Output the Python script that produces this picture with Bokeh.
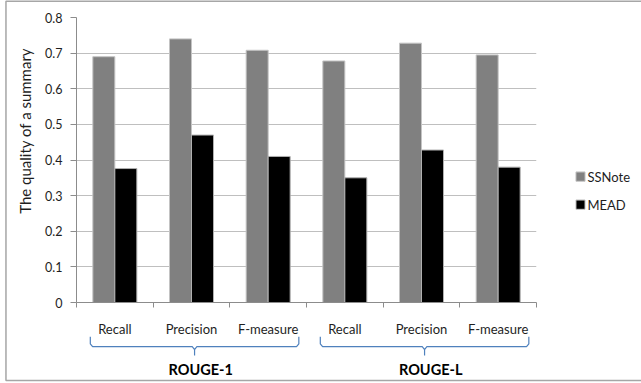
import numpy as np
from bokeh.plotting import figure
from bokeh.models import ColumnDataSource, FixedTicker
from bokeh.core.properties import value
from bokeh.embed import file_html
from bokeh.resources import INLINE

# ---- data ----
metrics = ["Recall", "Precision", "F-measure", "Recall", "Precision", "F-measure"]
groups = ["ROUGE-1", "ROUGE-L"]
series = ["SSNote", "MEAD"]
ssnote = [0.69, 0.74, 0.708, 0.678, 0.728, 0.695]
mead = [0.376, 0.47, 0.41, 0.35, 0.428, 0.38]
y_ticks = [0, 0.1, 0.2, 0.3, 0.4, 0.5, 0.6, 0.7, 0.8]

FONT = "Lato"
TEXT = "#1e1e1e"
BAR_W = 0.287
COLORS = ["#808080", "#000000"]

centers = np.arange(len(metrics)) + 0.5
src = ColumnDataSource(dict(
    x_ss=centers - BAR_W / 2,
    x_md=centers + BAR_W / 2,
    ssnote=ssnote,
    mead=mead,
))

p = figure(width=641, height=383, output_backend="svg", toolbar_location=None,
           x_range=(0, len(metrics)), y_range=(0, 0.8),
           min_border_left=76, min_border_right=105,
           min_border_top=17, min_border_bottom=81)
p.outline_line_color = None

p.vbar(x="x_ss", top="ssnote", width=BAR_W, source=src,
       fill_color=COLORS[0], line_color="#c4c4c4", line_width=1)
p.vbar(x="x_md", top="mead", width=BAR_W, source=src,
       fill_color=COLORS[1], line_color="#b0b0b0", line_width=1)

# y axis
p.yaxis.ticker = FixedTicker(ticks=y_ticks)
p.yaxis.major_label_overrides = {t: ("0" if t == 0 else f"{t:.1f}") for t in y_ticks}
p.yaxis.axis_line_color = "#8c8c8c"
p.yaxis.major_tick_line_color = "#8c8c8c"
p.yaxis.major_tick_out = 6
p.yaxis.major_tick_in = 0
p.yaxis.minor_tick_line_color = None
p.yaxis.major_label_standoff = 8
p.yaxis.major_label_text_font = FONT
p.yaxis.major_label_text_font_size = "12.5px"
p.yaxis.major_label_text_color = TEXT

# x axis: names at the category centres, tick marks at the boundaries
p.xaxis.ticker = FixedTicker(ticks=list(centers),
                             minor_ticks=list(range(len(metrics) + 1)))
p.xaxis.major_label_overrides = {float(c): name for c, name in zip(centers, metrics)}
p.xaxis.major_label_text_font = FONT
p.xaxis.major_label_text_font_size = "13px"
p.xaxis.major_label_text_color = TEXT
p.xaxis.major_label_standoff = 13
p.xaxis.axis_line_color = "#8c8c8c"
p.xaxis.major_tick_line_color = None
p.xaxis.major_tick_out = 0
p.xaxis.major_tick_in = 0
p.xaxis.minor_tick_line_color = "#8c8c8c"
p.xaxis.minor_tick_out = 5
p.xaxis.minor_tick_in = 0

p.xgrid.grid_line_color = None
p.ygrid.ticker = FixedTicker(ticks=y_ticks)
p.ygrid.grid_line_color = "#bfbfbf"

# curly brackets and group names
bx, by, gx = [], [], []
for gi in range(len(groups)):
    a = gi * 3 + 0.18
    b = gi * 3 + 2.9
    m = (a + b) / 2
    top, mid, tip = -0.096, -0.124, -0.149
    d = 0.03
    bx.append([a, a, a + d, m - d, m, m, m, m + d, b - d, b, b])
    by.append([top, mid + 0.008, mid, mid, mid - 0.008, tip, mid - 0.008,
               mid, mid, mid + 0.008, top])
    gx.append(m + 0.08)
p.multi_line(xs=bx, ys=by, line_color="#4f81bd", line_width=1.2, level="overlay")
p.text(x=gx, y=[-0.187] * len(groups), text=groups, level="overlay",
       text_align="center", text_baseline="middle", text_font=value(FONT),
       text_font_size="14.5px", text_font_style="bold", text_color="#000000")

# y axis title
p.text(x=[-0.67], y=[0.482], text=["The quality of a summary"], angle=np.pi / 2,
       level="overlay", text_align="center", text_baseline="middle",
       text_font=value(FONT), text_font_size="15px", text_color=TEXT)

# legend keys to the right of the plot area
leg_x0, leg_w, leg_h = 6.515, 0.118, 0.0262
leg_y = [0.3534, 0.2747]
key_xs = [[leg_x0, leg_x0 + leg_w] for _ in series]
key_ys = [[y, y] for y in leg_y]
p.multi_line(xs=key_xs, ys=key_ys, line_color=COLORS, line_width=9,
             line_cap="butt", level="overlay")
box_xs = [[leg_x0, leg_x0 + leg_w, leg_x0 + leg_w, leg_x0, leg_x0] for _ in series]
box_ys = [[y - leg_h / 2, y - leg_h / 2, y + leg_h / 2, y + leg_h / 2, y - leg_h / 2]
          for y in leg_y]
p.multi_line(xs=box_xs, ys=box_ys, line_color="#c0c0c0", line_width=1, level="overlay")
p.text(x=[6.665] * len(series), y=leg_y, text=series, level="overlay",
       text_align="left", text_baseline="middle", text_font=value(FONT),
       text_font_size="13px", text_color=TEXT)

# chart border
p.multi_line(xs=[[7.5, -0.92, -0.92, 7.5]], ys=[[0.8455, 0.8455, -0.219, -0.219]],
             line_color="#a6a6a6", line_width=1.5, level="overlay")

open("out.html", "w").write(file_html(p, INLINE))
